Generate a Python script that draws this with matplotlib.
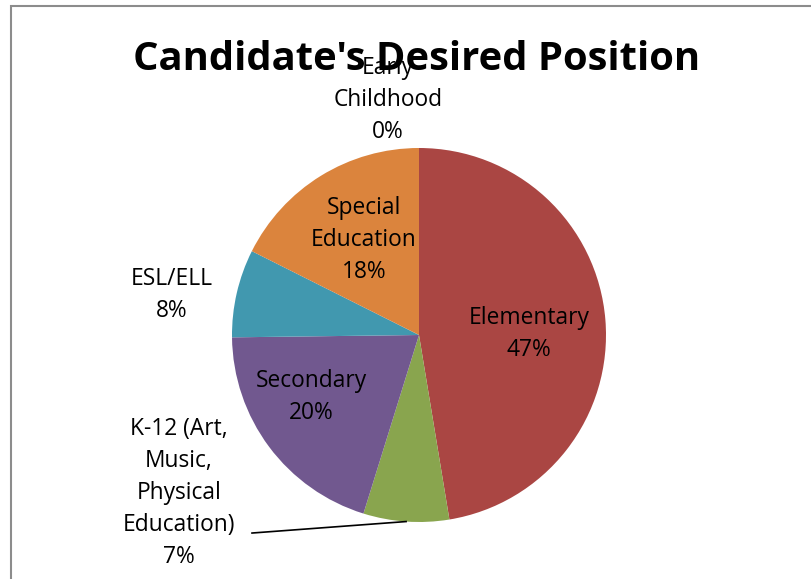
import matplotlib.pyplot as plt
import matplotlib.patches as patches
import numpy as np

# data
labels = ['Elementary', 'K-12 (Art,\nMusic,\nPhysical\nEducation)', 'Secondary',
          'ESL/ELL', 'Special\nEducation', 'Early\nChildhood']
values = [47.4, 7.4, 20.0, 7.6, 17.6, 0]
colors = ['#AA4643', '#89A54E', '#71588F', '#4198AF', '#DB843D', '#4572A7']

# label centres in pie units (radius = 1)
lab_pos = [(0.588, 0.005), (-1.283, -0.845), (-0.578, -0.332),
           (-1.321, 0.214), (-0.294, 0.508), (-0.166, 1.257)]

W, H = 811, 579
fig = plt.figure(figsize=(W / 100, H / 100), dpi=100)
fig.patch.set_facecolor('white')

# chart frame (runs off right and bottom)
fig.add_artist(patches.Rectangle((11 / W, -0.1), 1.2, (579 - 6) / H + 0.1,
                                 transform=fig.transFigure, fill=False,
                                 edgecolor='#8c8c8c', linewidth=1.5))

cx, cy, r = 419, 335, 187
ax = fig.add_axes([(cx - r) / W, (H - cy - r) / H, 2 * r / W, 2 * r / H])
ax.axis('off')

wedges, _ = ax.pie(values, colors=colors, startangle=90, counterclock=False,
                   radius=1, wedgeprops=dict(linewidth=0))
ax.set_xlim(-1, 1)
ax.set_ylim(-1, 1)

font = 'Open Sans'
fs = 16.4
for i, w in enumerate(wedges):
    txt = labels[i] + '\n' + '%d%%' % round(values[i])
    x, y = lab_pos[i]
    ax.text(x, y, txt, ha='center', va='center', fontsize=fs, family=font,
            linespacing=1.44, clip_on=False)
    if i == 1:
        # leader line for the K-12 label
        mid = np.deg2rad((w.theta1 + w.theta2) / 2)
        ax.plot([-0.893, np.cos(mid)], [-1.059, np.sin(mid)],
                color='black', linewidth=1.2, clip_on=False)

fig.text(0.514, 0.897, "Candidate's Desired Position", ha='center', va='center',
         fontsize=28.8, fontweight='bold', family=font)

fig.savefig('out.png', dpi=100)
